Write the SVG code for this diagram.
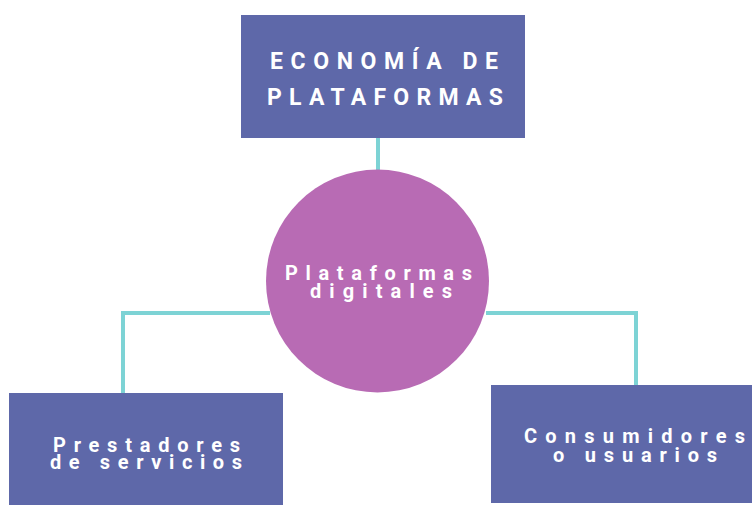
<svg xmlns="http://www.w3.org/2000/svg" width="752" height="505" viewBox="0 0 752 505">
<style>
.box{fill:#5e68a9;}
.circ{fill:#b86bb4;}
.conn{stroke:#7dd3d5;stroke-width:4;fill:none;}
.t{fill:#ffffff;font-family:Roboto,"Liberation Sans",sans-serif;font-weight:bold;}
.big{font-size:23px;}
.mid{font-size:20px;}
</style>
<rect width="752" height="505" fill="#ffffff"/>
<g id="connectors">
<line class="conn" x1="378" y1="138" x2="378" y2="172"/>
<polyline class="conn" points="270,313 123,313 123,393"/>
<polyline class="conn" points="486,313 636,313 636,385"/>
</g>
<g id="economia">
<rect class="box" x="241" y="15" width="284" height="123"/>
<text class="t big" x="270" y="69" textLength="228" lengthAdjust="spacing">ECONOMÍA DE</text>
<text class="t big" x="267" y="105" textLength="236" lengthAdjust="spacing">PLATAFORMAS</text>
</g>
<g id="plataformas">
<circle class="circ" cx="377.5" cy="281" r="111.5"/>
<text class="t mid" x="285" y="280" textLength="187" lengthAdjust="spacing">Plataformas</text>
<text class="t mid" x="310" y="298" textLength="142" lengthAdjust="spacing">digitales</text>
</g>
<g id="prestadores">
<rect class="box" x="9" y="393" width="274" height="115"/>
<text class="t mid" x="53" y="452" textLength="187" lengthAdjust="spacing">Prestadores</text>
<text class="t mid" x="50" y="469" textLength="192" lengthAdjust="spacing">de servicios</text>
</g>
<g id="consumidores">
<rect class="box" x="491" y="385" width="265" height="118"/>
<text class="t mid" x="524" y="443" textLength="221" lengthAdjust="spacing">Consumidores</text>
<text class="t mid" x="553" y="462" textLength="164" lengthAdjust="spacing">o usuarios</text>
</g>
</svg>
